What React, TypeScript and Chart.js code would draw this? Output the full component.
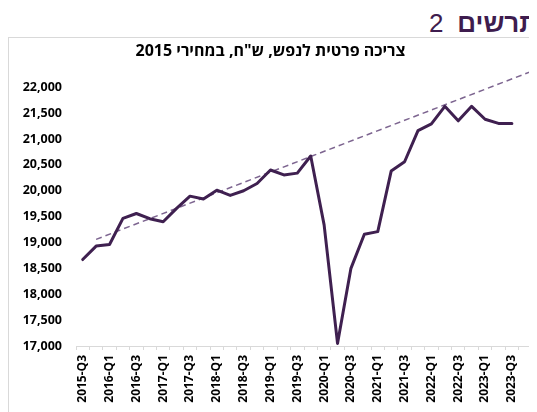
import React, { useEffect, useRef } from "react";
import { Chart, registerables } from "chart.js";

Chart.register(...registerables);

const headerWord = "תרשים";
const headerNumber = "2";
const chartTitle = 'צריכה פרטית לנפש, ש"ח, במחירי 2015';

const categories = [
  "2015-Q3", "2015-Q4", "2016-Q1", "2016-Q2", "2016-Q3", "2016-Q4",
  "2017-Q1", "2017-Q2", "2017-Q3", "2017-Q4", "2018-Q1", "2018-Q2",
  "2018-Q3", "2018-Q4", "2019-Q1", "2019-Q2", "2019-Q3", "2019-Q4",
  "2020-Q1", "2020-Q2", "2020-Q3", "2020-Q4", "2021-Q1", "2021-Q2",
  "2021-Q3", "2021-Q4", "2022-Q1", "2022-Q2", "2022-Q3", "2022-Q4",
  "2023-Q1", "2023-Q2", "2023-Q3", "2023-Q4",
];

const consumption = [
  18670, 18930, 18960, 19465, 19560, 19460,
  19400, 19660, 19895, 19840, 20010, 19910,
  20000, 20140, 20400, 20305, 20340, 20670,
  19340, 17050, 18500, 19160, 19210, 20380,
  20560, 21160, 21290, 21630, 21350, 21630,
  21380, 21300, 21300,
];

const trendX = [1, 34];
const trendY = [19060, 22360];

const yMin = 17000;
const yMax = 22000;
const yStep = 500;

const FONT = "'Open Sans', 'DejaVu Sans', sans-serif";

export default function App() {
  const canvasRef = useRef<HTMLCanvasElement | null>(null);

  useEffect(() => {
    if (!canvasRef.current) return;
    const chart = new Chart(canvasRef.current, {
      type: "line",
      data: {
        datasets: [
          {
            label: "consumption",
            data: consumption.map((v, i) => ({ x: i, y: v })),
            borderColor: "#3f2050",
            borderWidth: 3,
            pointRadius: 0,
            borderJoinStyle: "round",
            borderCapStyle: "round",
            tension: 0,
            fill: false,
          },
          {
            label: "trend",
            data: trendX.map((x, i) => ({ x, y: trendY[i] })),
            borderColor: "#7d6590",
            borderWidth: 1.5,
            borderDash: [6, 4],
            pointRadius: 0,
            tension: 0,
            fill: false,
            clip: false as any,
          },
        ],
      },
      options: {
        animation: false,
        responsive: true,
        maintainAspectRatio: false,
        layout: { padding: { left: 0, right: 29, top: 0, bottom: 0 } },
        plugins: {
          legend: { display: false },
          tooltip: { enabled: false },
          title: {
            display: true,
            text: chartTitle,
            color: "#000000",
            font: { family: FONT, size: 16, weight: "bold" },
            padding: { top: 4, bottom: 26 },
          },
        },
        scales: {
          x: {
            type: "linear",
            min: -0.5,
            max: categories.length - 0.5,
            afterBuildTicks: (scale: any) => {
              scale.ticks = categories.map((_, i) => ({ value: i }));
            },
            afterFit: (scale: any) => {
              scale.height = 66;
            },
            grid: {
              display: true,
              drawOnChartArea: false,
              drawTicks: true,
              tickLength: 4,
              offset: true,
              color: "#d9d9d9",
            },
            border: { display: true, color: "#d9d9d9", width: 1 },
            ticks: {
              autoSkip: false,
              minRotation: 90,
              maxRotation: 90,
              padding: 5,
              color: "#000000",
              font: { family: FONT, size: 12, weight: "bold" },
              callback: (_v: any, index: number) =>
                index % 2 === 0 ? categories[index] : "",
            },
          },
          y: {
            min: yMin,
            max: yMax,
            afterFit: (scale: any) => {
              scale.width = 67;
            },
            grid: { display: false, drawTicks: false },
            border: { display: false },
            ticks: {
              stepSize: yStep,
              padding: 14,
              color: "#000000",
              font: { family: FONT, size: 12.5, weight: "bold" },
              callback: (v: any) => Number(v).toLocaleString("en-US"),
            },
          },
        },
      },
    });
    return () => chart.destroy();
  }, []);

  return (
    <div
      style={{
        position: "relative",
        width: 529,
        height: 404,
        overflow: "hidden",
      }}
    >
      <div
        dir="rtl"
        style={{
          position: "absolute",
          right: -1,
          top: 2,
          fontFamily: "'Liberation Sans', Arial, 'DejaVu Sans', sans-serif",
          fontSize: 26,
          lineHeight: "26px",
          color: "#3e1c4e",
          whiteSpace: "nowrap",
        }}
      >
        <span style={{ fontWeight: "bold" }}>{headerWord}</span>
        <span style={{ marginRight: 14 }}>{headerNumber}</span>
      </div>
      <div
        style={{
          position: "absolute",
          left: 0,
          top: 29,
          width: 600,
          height: 500,
          border: "1px solid #d9d9d9",
          background: "#ffffff",
        }}
      >
        <div style={{ position: "absolute", left: 0, top: 0, width: 552, height: 374 }}>
          <canvas ref={canvasRef} />
        </div>
      </div>
    </div>
  );
}
